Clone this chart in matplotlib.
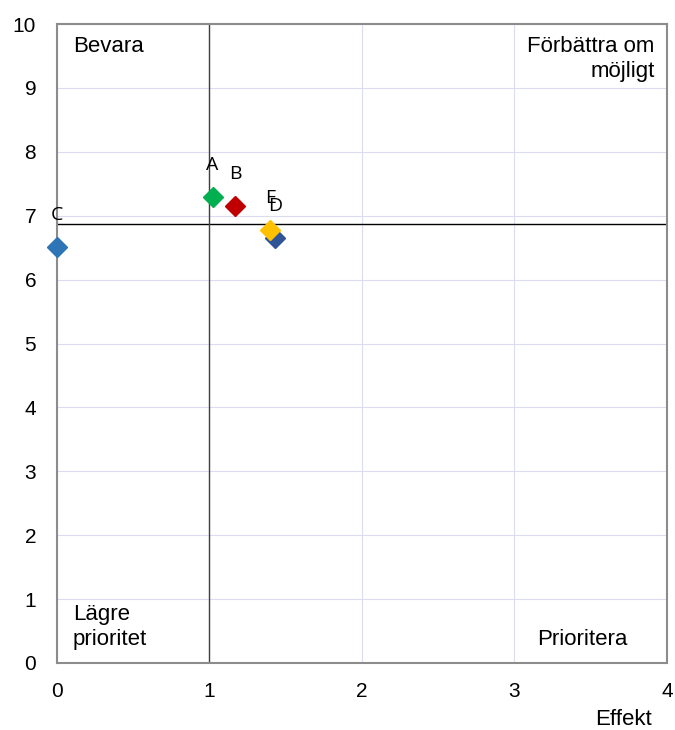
import matplotlib
matplotlib.use("Agg")
import matplotlib.pyplot as plt

# Points: label, effect (x), score (y), colour
labels = ["A", "B", "C", "D", "E"]
effekt = [1.02, 1.17, 0.0, 1.43, 1.40]
betyg = [7.30, 7.15, 6.51, 6.65, 6.78]
colors = ["#00B050", "#C00000", "#2E75B6", "#2F5597", "#FFC000"]

x_ticks = [0, 1, 2, 3, 4]
y_ticks = [0, 1, 2, 3, 4, 5, 6, 7, 8, 9, 10]
h_line = 6.87
v_line = 1.0

fig = plt.figure(figsize=(6.75, 7.3), dpi=100)
ax = fig.add_axes([0.0844, 0.0918, 0.9037, 0.8753])
ax.set_xlim(0, 4)
ax.set_ylim(0, 10)
ax.set_xticks(x_ticks)
ax.set_yticks(y_ticks)
ax.grid(True, color="#DCDCF0", linewidth=0.8)
ax.set_axisbelow(True)
for s in ax.spines.values():
    s.set_color("#8C8C8C")
    s.set_linewidth(1.5)
ax.tick_params(axis="x", length=0, labelsize=15, pad=14)
ax.tick_params(axis="y", length=0, labelsize=15, pad=15)
for t in ax.get_xticklabels() + ax.get_yticklabels():
    t.set_fontfamily("Liberation Sans")

ax.axhline(h_line, color="black", linewidth=1)
ax.axvline(v_line, color="#404040", linewidth=1)

# Draw in order so D sits beneath E
order = [2, 0, 1, 3, 4]
for i in order:
    ax.plot(effekt[i], betyg[i], marker="D", markersize=10, color=colors[i],
            linestyle="none", clip_on=False, zorder=3)

for lab, x, y in zip(labels, effekt, betyg):
    ax.annotate(lab, (x, y), xytext=(0, 23), textcoords="offset points",
                ha="center", va="center", fontsize=14, family="Open Sans",
                zorder=4)

qfont = dict(fontsize=16, family="Liberation Sans")
ax.text(0.105, 9.81, "Bevara", ha="left", va="top", **qfont)
ax.text(3.92, 9.81, "Förbättra om\nmöjligt", ha="right", va="top",
        multialignment="right", linespacing=1.25, **qfont)
ax.text(0.105, 0.2, "Lägre\nprioritet", ha="left", va="bottom",
        linespacing=1.25, **qfont)
ax.text(3.744, 0.28, "Prioritera", ha="right", va="baseline", **qfont)

fig.text(0.966, 0.007, "Effekt", ha="right", va="baseline", fontsize=16,
         family="Liberation Sans")

fig.savefig("out.png", dpi=100)
